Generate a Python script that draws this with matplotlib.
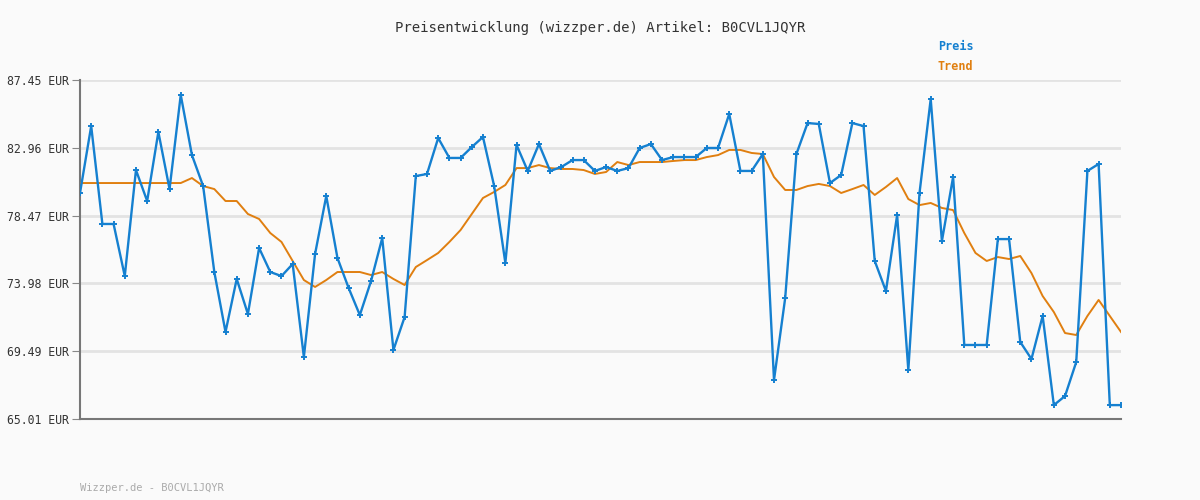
import matplotlib
matplotlib.use("Agg")
import matplotlib.pyplot as plt
import numpy as np

preis = [79.97,84.40,77.92,77.92,74.47,81.49,79.44,84.01,80.23,86.46,
82.48,80.43,74.74,70.77,74.28,71.96,76.33,74.74,74.47,75.27,
69.11,75.93,79.77,75.67,73.68,71.89,74.14,76.99,69.58,71.76,
81.09,81.23,83.61,82.29,82.29,83.01,83.68,80.43,75.34,83.15,
81.43,83.21,81.43,81.69,82.15,82.15,81.43,81.69,81.43,81.62,
82.95,83.21,82.15,82.35,82.35,82.35,82.95,82.95,85.20,81.43,
81.43,82.55,67.59,73.02,82.55,84.60,84.54,80.63,81.16,84.60,
84.40,75.47,73.48,78.51,68.25,79.97,86.19,76.79,81.03,69.91,
69.91,69.91,76.92,76.92,70.11,68.98,71.83,65.93,66.53,68.78,
81.43,81.89,65.93,65.93]
trend = [80.63]*10 + [80.96,80.43,80.23,79.44,79.44,78.58,78.25,77.32,76.73,75.47,
74.21,73.75,74.21,74.74,74.74,74.74,74.54,74.74,74.28,73.88,
75.07,75.53,76.00,76.73,77.52,78.58,79.64,80.04,80.50,81.62,
81.62,81.82,81.62,81.56,81.56,81.49,81.23,81.36,82.02,81.82,
82.02,82.02,82.02,82.09,82.15,82.15,82.35,82.48,82.82,82.82,
82.62,82.55,81.03,80.17,80.17,80.43,80.57,80.43,79.97,80.23,
80.50,79.84,80.37,80.96,79.57,79.17,79.31,78.98,78.84,77.32,
76.00,75.47,75.73,75.60,75.80,74.67,73.15,72.09,70.70,70.57,
71.83,72.89,71.83,70.77]
yticks = [65.01,69.49,73.98,78.47,82.96,87.45]
n = min(len(preis), len(trend))
preis = preis[:n]; trend = trend[:n]
x = np.arange(n)

bg = "#fafafa"
fig = plt.figure(figsize=(12,5), dpi=100, facecolor=bg)
ax = fig.add_axes([80/1200, 81/500, 1041/1200, 339/500], facecolor=bg)
ax.plot(x, trend, color="#e07f10", lw=1.4, zorder=3)
ax.plot(x, preis, color="#1580d0", lw=1.7, marker='+', ms=4, mew=1.4, zorder=4)
ax.set_xlim(0, n-1)
ax.set_ylim(65.01, 87.45)
ax.set_yticks(yticks)
ax.set_yticklabels([f"{v:.2f} EUR" for v in yticks], family="DejaVu Sans Mono", fontsize=8.3, color="#333")
ax.set_xticks([])
ax.grid(axis='y', color="#e3e3e3", lw=2)
ax.set_axisbelow(True)
ax.tick_params(axis='y', length=6, color="#888", pad=2)
for s in ["top","right"]:
    ax.spines[s].set_visible(False)
for s in ["left","bottom"]:
    ax.spines[s].set_color("#777"); ax.spines[s].set_linewidth(1.5)
fig.text(0.5, 1-28/500, "Preisentwicklung (wizzper.de) Artikel: B0CVL1JQYR", ha="center", va="center",
         family="DejaVu Sans Mono", fontsize=10, color="#333")
fig.text(938/1200, 1-47/500, "Preis", family="DejaVu Sans Mono", fontsize=8.5, color="#1580d0", weight="bold", va="center")
fig.text(938/1200, 1-67/500, "Trend", family="DejaVu Sans Mono", fontsize=8.5, color="#e07f10", weight="bold", va="center")
fig.text(80/1200, 1-488/500, "Wizzper.de - B0CVL1JQYR", family="DejaVu Sans Mono", fontsize=7.5, color="#aaa", va="center")
fig.savefig("out.png", dpi=100, facecolor=bg)
